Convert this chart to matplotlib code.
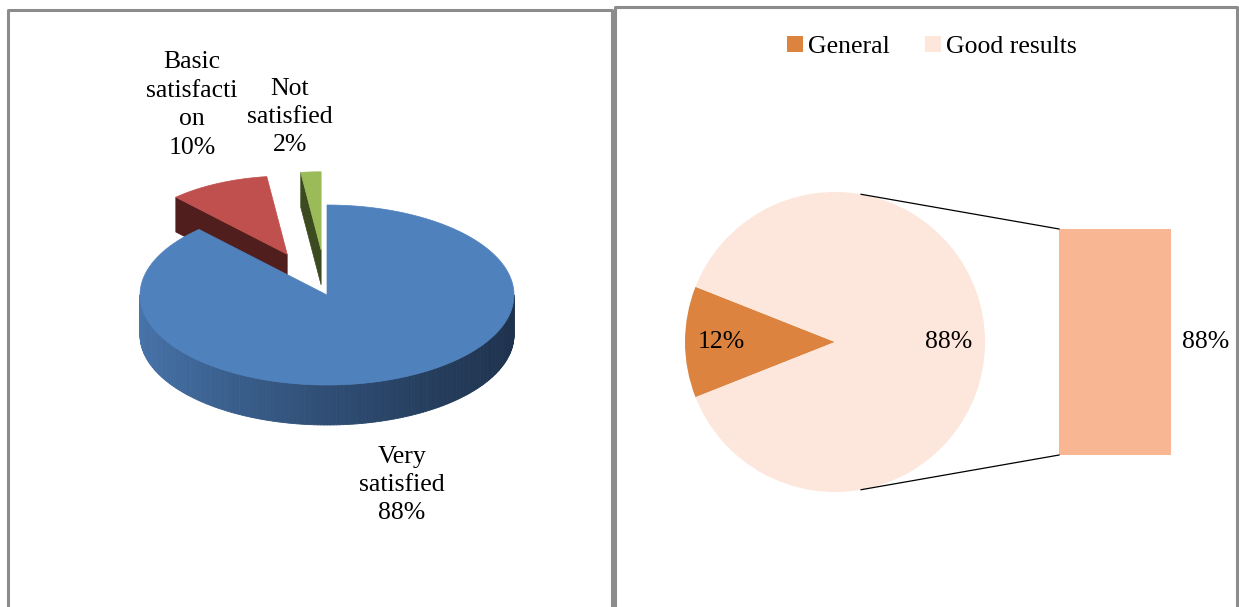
import numpy as np
import matplotlib
matplotlib.use('Agg')
import matplotlib.pyplot as plt
from matplotlib.collections import PolyCollection
from matplotlib.colors import to_rgb

plt.rcParams['font.family'] = ['Liberation Serif', 'DejaVu Serif']

# left chart data
sat_labels = ['Very\nsatisfied', 'Basic\nsatisfacti\non', 'Not\nsatisfied']
sat_values = [88, 10, 2]
sat_explode = [0.0, 0.5, 0.5]
sat_top = ['#4F81BD', '#C0504D', '#9BBB59']
sat_side = ['#1F3450', '#4F1E1D', '#3C4A20']

# right chart data
res_labels = ['General', 'Good results']
res_values = [12, 88]
res_colors = ['#DC843F', '#FDE6DB']
bar_color = '#F8B692'

fig = plt.figure(figsize=(12.39, 6.07), dpi=100)
bg = fig.add_axes([0, 0, 1, 1])
bg.set_xlim(0, 1239)
bg.set_ylim(607, 0)
bg.axis('off')

# panel borders
border = dict(color='#8C8C8C', lw=2.2, solid_capstyle='butt')
bg.plot([8, 8, 612, 612], [607, 10, 10, 607], **border)
bg.plot([615, 615, 1237, 1237], [607, 7, 7, 607], **border)

# ---- left: 3d exploded pie (pixel coords) ----
cx, cy = 327, 295
R, r = 187, 90
depth = 40


def pt(theta, scale=1.0, off=(0, 0), dz=0):
    t = np.radians(theta)
    return (cx + off[0] + scale * R * np.cos(t),
            cy + off[1] - scale * r * np.sin(t) + dz)


total = float(sum(sat_values))
start = 90.0
spans = []
for v in sat_values:
    a1 = start
    a0 = start - 360.0 * v / total
    spans.append((a0, a1))
    start = a0

# exploded slices first (they sit behind the big one)
for i in [1, 2]:
    a0, a1 = spans[i]
    mid = np.radians((a0 + a1) / 2)
    e = sat_explode[i]
    off = (e * R * np.cos(mid), -e * r * np.sin(mid))
    s = 0.87
    d = depth * s
    apex = pt(0, 0, off)
    # visible cut face on the left edge of the slice
    c_top = pt(a1, s, off)
    face = [apex, c_top, (c_top[0], c_top[1] + d), (apex[0], apex[1] + d)]
    bg.add_patch(plt.Polygon(face, closed=True, fc=sat_side[i], ec=sat_side[i], lw=0.5))
    arc = [pt(t, s, off) for t in np.linspace(a0, a1, 40)]
    bg.add_patch(plt.Polygon([apex] + arc, closed=True, fc=sat_top[i], ec=sat_top[i], lw=0.5))

# big slice: gradient side wall, then top face
a0, a1 = spans[0]
light = np.array(to_rgb('#4774AB'))
dark = np.array(to_rgb('#1E324D'))
ts = np.linspace(180, 360, 181)
quads, cols = [], []
for t0, t1 in zip(ts[:-1], ts[1:]):
    p0, p1 = pt(t0), pt(t1)
    quads.append([p0, p1, (p1[0], p1[1] + depth), (p0[0], p0[1] + depth)])
    f = ((p0[0] + p1[0]) / 2 - (cx - R)) / (2 * R)
    f = min(1.0, max(0.0, f)) ** 0.8
    cols.append(light * (1 - f) + dark * f)
bg.add_collection(PolyCollection(quads, facecolors=cols, edgecolors=cols, linewidths=0.6))
arc = [pt(t) for t in np.linspace(a0, a1, 200)]
bg.add_patch(plt.Polygon([pt(0, 0)] + arc, closed=True, fc=sat_top[0], ec=sat_top[0], lw=0.5))

lbl = dict(fontsize=18.5, ha='center', va='center', linespacing=1.38, color='black')
bg.text(192, 105, f'{sat_labels[1]}\n{sat_values[1]}%', **lbl)
bg.text(290, 117, f'{sat_labels[2]}\n{sat_values[2]}%', **lbl)
bg.text(402, 485, f'{sat_labels[0]}\n{sat_values[0]}%', **lbl)

# ---- right: pie of bar ----
ax = fig.add_axes([620 / 1239, 1 - 600 / 607, 616 / 1239, 540 / 607])
gen_angle = 360.0 * res_values[0] / sum(res_values)
wedges, texts, autotexts = ax.pie(res_values, colors=res_colors, startangle=180 - gen_angle / 2,
                                  autopct='%1.0f%%', pctdistance=0.76,
                                  textprops=dict(fontsize=18.5, color='black'))
ax.set_xlim(-215 / 150, 401 / 150)
ax.set_ylim(-258 / 150, 282 / 150)
ax.set_aspect('auto')
ax.axis('off')

bar_x, bar_w, bar_h = 1.867, 0.747, 1.507
bars = ax.bar(bar_x, bar_h, width=bar_w, bottom=-bar_h / 2, color=bar_color)
ax.text(bar_x + bar_w / 2 + 0.23, 0, f'{res_values[1]}%', fontsize=18.5, ha='center', va='center')

# connector lines from the pie to the bar
ang = np.radians(80)
left_edge = bar_x - bar_w / 2
ax.plot([np.cos(ang), left_edge], [np.sin(ang), bar_h / 2], color='black', lw=0.9)
ax.plot([np.cos(ang), left_edge], [-np.sin(ang), -bar_h / 2], color='black', lw=0.9)

fig.legend(wedges, res_labels, loc='center', bbox_to_anchor=(932 / 1239, 1 - 47 / 607),
           ncol=2, frameon=False, fontsize=18.5, handlelength=0.6, handleheight=0.6,
           handletextpad=0.2, columnspacing=1.4)

fig.savefig('out.png', dpi=100)
